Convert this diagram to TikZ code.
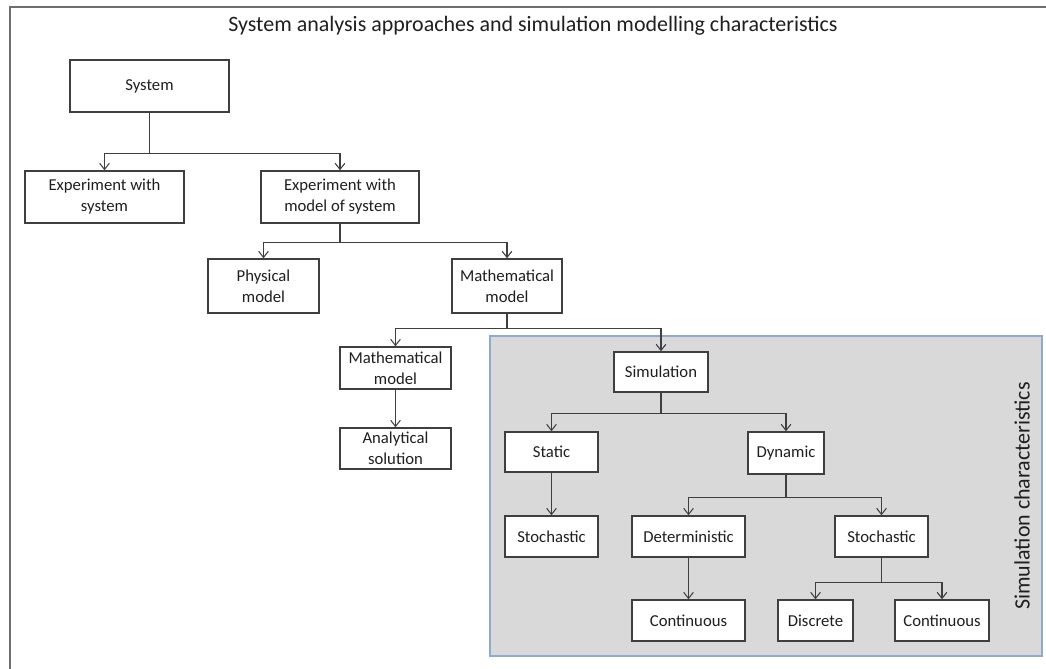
\documentclass[tikz,border=0pt]{standalone}
\usepackage{fontspec}
\setmainfont{Carlito}
\usetikzlibrary{arrows.meta}

\definecolor{boxline}{HTML}{3F3F3F}
\definecolor{frameline}{HTML}{6E6E6E}
\definecolor{simfill}{HTML}{D9D9D9}
\definecolor{simline}{HTML}{8FAACB}
\definecolor{textcol}{HTML}{1F1F1F}

\tikzset{
  blk/.style={draw=boxline, line width=0.8pt, fill=white, align=center,
    inner sep=1pt, text=textcol, font=\fontsize{9.5}{12}\selectfont},
  arr/.style={draw=boxline, line width=0.6pt,
    -{Straight Barb[length=3.5pt,width=5.5pt]}},
  heading/.style={text=textcol, font=\fontsize{12.5}{15}\selectfont}
}

\begin{document}
\begin{tikzpicture}[x=0.02cm, y=-0.02cm]
\useasboundingbox (0,0) rectangle (1046,669);
% outer frame
\draw[frameline, line width=1pt] (10,669) -- (10,7) -- (1046,7);
\node[heading] (title) at (533,26) {System analysis approaches and simulation modelling characteristics};

% simulation part
\draw[simline, fill=simfill, line width=0.8pt] (490,336) rectangle (1042,656);
\node[heading, rotate=90] (simlabel) at (1022,496) {Simulation characteristics};

% boxes
\node[blk, minimum width=159*0.02cm, minimum height=52*0.02cm] (sys) at (149.5,86) {System};
\node[blk, minimum width=159*0.02cm, minimum height=52*0.02cm] (expsys) at (104.5,197) {Experiment with\\system};
\node[blk, minimum width=158*0.02cm, minimum height=52*0.02cm] (expmod) at (340,197) {Experiment with\\model of system};
\node[blk, minimum width=111*0.02cm, minimum height=54*0.02cm] (phys) at (263.5,286) {Physical\\model};
\node[blk, minimum width=110*0.02cm, minimum height=54*0.02cm] (mathA) at (507,286) {Mathematical\\model};
\node[blk, minimum width=111*0.02cm, minimum height=42*0.02cm] (mathB) at (395.5,368) {Mathematical\\model};
\node[blk, minimum width=111*0.02cm, minimum height=41*0.02cm] (anal) at (395.5,448.5) {Analytical\\solution};
\node[blk, minimum width=94*0.02cm, minimum height=40*0.02cm] (sim) at (661,372) {Simulation};
\node[blk, minimum width=93*0.02cm, minimum height=40*0.02cm] (static) at (551.5,452) {Static};
\node[blk, minimum width=76*0.02cm, minimum height=42*0.02cm] (dyn) at (786,453) {Dynamic};
\node[blk, minimum width=93*0.02cm, minimum height=41*0.02cm] (stochL) at (551.5,536.5) {Stochastic};
\node[blk, minimum width=113*0.02cm, minimum height=41*0.02cm] (det) at (688.5,536.5) {Deterministic};
\node[blk, minimum width=93*0.02cm, minimum height=41*0.02cm] (stochR) at (881.5,536.5) {Stochastic};
\node[blk, minimum width=113*0.02cm, minimum height=41*0.02cm] (contL) at (688.5,620.5) {Continuous};
\node[blk, minimum width=75*0.02cm, minimum height=41*0.02cm] (disc) at (815.5,620.5) {Discrete};
\node[blk, minimum width=94*0.02cm, minimum height=41*0.02cm] (contR) at (942,620.5) {Continuous};

% connectors
\draw[arr] (sys.south) -- ++(0,41) -| (expsys.north);
\draw[arr] (sys.south) -- ++(0,41) -| (expmod.north);
\draw[arr] (expmod.south) -- ++(0,19) -| (phys.north);
\draw[arr] (expmod.south) -- ++(0,19) -| (mathA.north);
\draw[arr] (mathA.south) -- ++(0,15) -| (mathB.north);
\draw[arr] (mathA.south) -- ++(0,15) -| (sim.north);
\draw[arr] (mathB) -- (anal);
\draw[arr] (sim.south) -- ++(0,21) -| (static.north);
\draw[arr] (sim.south) -- ++(0,21) -| (dyn.north);
\draw[arr] (static) -- (stochL);
\draw[arr] (dyn.south) -- ++(0,23) -| (det.north);
\draw[arr] (dyn.south) -- ++(0,23) -| (stochR.north);
\draw[arr] (det) -- (contL);
\draw[arr] (stochR.south) -- ++(0,25) -| (disc.north);
\draw[arr] (stochR.south) -- ++(0,25) -| (contR.north);
\end{tikzpicture}
\end{document}
